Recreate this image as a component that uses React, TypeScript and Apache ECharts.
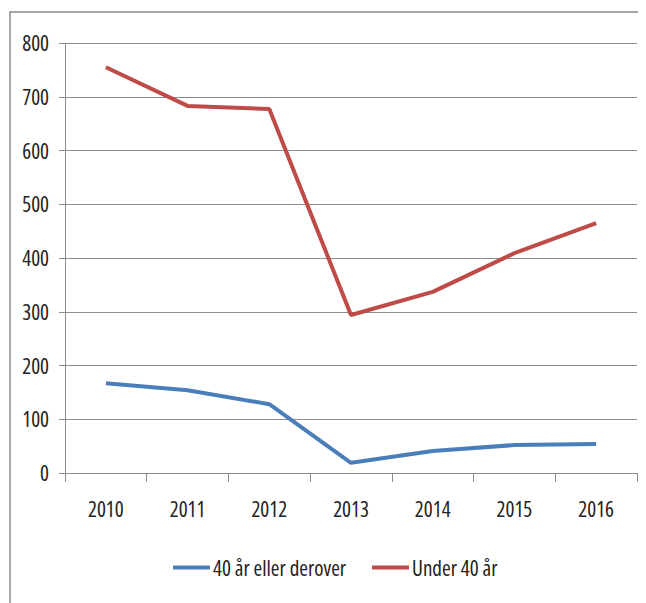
import React, { useEffect, useRef } from "react";
import * as echarts from "echarts";

const years = ["2010", "2011", "2012", "2013", "2014", "2015", "2016"];
const over40 = [167, 154, 128, 19, 41, 52, 54];
const under40 = [755, 683, 677, 294, 337, 409, 465];
const seriesNames = ["40 år eller derover", "Under 40 år"];

const FONT = "'Open Sans', sans-serif";
const TEXT_COLOR = "#222222";
const FONT_SIZE = 21;

export default function App() {
  const ref = useRef<HTMLDivElement>(null);
  useEffect(() => {
    if (!ref.current) return;
    const chart = echarts.init(ref.current, null, { renderer: "svg" });
    const legendText = {
      fontFamily: FONT,
      fontSize: FONT_SIZE,
      color: TEXT_COLOR,
      padding: [0, 0, 0, -2],
    };
    const legendBase = {
      top: 549,
      padding: 0,
      icon: "rect",
      itemWidth: 37,
      itemHeight: 4,
      textStyle: legendText,
    };
    chart.setOption({
      animation: false,
      textStyle: { fontFamily: FONT },
      graphic: [
        {
          type: "rect",
          shape: { x: 2, y: 4, width: 800, height: 800 },
          style: { fill: "none", stroke: "#8c8c8c", lineWidth: 1.5 },
          silent: true,
        },
      ],
      grid: { left: 57, top: 35, width: 572, height: 430, containLabel: false },
      legend: [
        { ...legendBase, left: 165, data: [seriesNames[0]] },
        { ...legendBase, left: 364, data: [seriesNames[1]] },
      ],
      xAxis: {
        type: "category",
        data: years,
        boundaryGap: true,
        axisLine: { lineStyle: { color: "#8c8c8c", width: 1 } },
        axisTick: { show: true, length: 9, lineStyle: { color: "#8c8c8c" } },
        axisLabel: {
          interval: 0,
          fontFamily: FONT,
          fontSize: FONT_SIZE,
          color: TEXT_COLOR,
          margin: 25,
        },
        splitLine: { show: false },
      },
      yAxis: {
        type: "value",
        min: 0,
        max: 800,
        interval: 100,
        axisLine: { show: true, lineStyle: { color: "#8c8c8c", width: 1 } },
        axisTick: { show: true, length: 6, lineStyle: { color: "#8c8c8c" } },
        axisLabel: {
          fontFamily: FONT,
          fontSize: FONT_SIZE,
          color: TEXT_COLOR,
          margin: 16,
        },
        splitLine: { show: true, lineStyle: { color: "#8c8c8c", width: 1 } },
      },
      series: [
        {
          name: seriesNames[0],
          type: "line",
          data: over40,
          symbol: "none",
          color: "#4a7ebb",
          lineStyle: { width: 4, color: "#4a7ebb" },
        },
        {
          name: seriesNames[1],
          type: "line",
          data: under40,
          symbol: "none",
          color: "#be4b48",
          lineStyle: { width: 4, color: "#be4b48" },
        },
      ],
    });
    return () => chart.dispose();
  }, []);
  return (
    <>
      <style>{".chart-root svg text { font-stretch: condensed; }"}</style>
      <div className="chart-root" ref={ref} style={{ width: 638, height: 595 }} />
    </>
  );
}
